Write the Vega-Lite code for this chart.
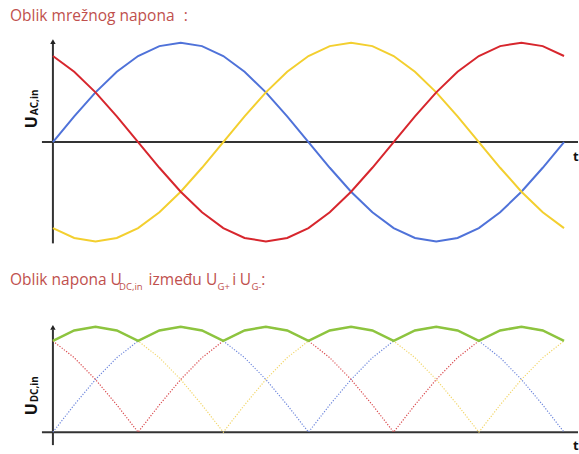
{
  "$schema": "https://vega.github.io/schema/vega-lite/v6.json",
  "width": 579,
  "height": 454,
  "autosize": {"type": "fit", "contains": "padding"},
  "padding": 0,
  "background": "white",
  "config": {"axis": {"disable": true}, "view": {"stroke": null}, "text": {"font": "Open Sans"}},
  "datasets": {
    "ac": [
      {"deg": 0, "blue": 0, "red": 0.866, "yellow": -0.866},
      {"deg": 15, "blue": 0.2588, "red": 0.7071, "yellow": -0.9659},
      {"deg": 30, "blue": 0.5, "red": 0.5, "yellow": -1},
      {"deg": 45, "blue": 0.7071, "red": 0.2588, "yellow": -0.9659},
      {"deg": 60, "blue": 0.866, "red": 0, "yellow": -0.866},
      {"deg": 75, "blue": 0.9659, "red": -0.2588, "yellow": -0.7071},
      {"deg": 90, "blue": 1, "red": -0.5, "yellow": -0.5},
      {"deg": 105, "blue": 0.9659, "red": -0.7071, "yellow": -0.2588},
      {"deg": 120, "blue": 0.866, "red": -0.866, "yellow": 0},
      {"deg": 135, "blue": 0.7071, "red": -0.9659, "yellow": 0.2588},
      {"deg": 150, "blue": 0.5, "red": -1, "yellow": 0.5},
      {"deg": 165, "blue": 0.2588, "red": -0.9659, "yellow": 0.7071},
      {"deg": 180, "blue": 0, "red": -0.866, "yellow": 0.866},
      {"deg": 195, "blue": -0.2588, "red": -0.7071, "yellow": 0.9659},
      {"deg": 210, "blue": -0.5, "red": -0.5, "yellow": 1},
      {"deg": 225, "blue": -0.7071, "red": -0.2588, "yellow": 0.9659},
      {"deg": 240, "blue": -0.866, "red": 0, "yellow": 0.866},
      {"deg": 255, "blue": -0.9659, "red": 0.2588, "yellow": 0.7071},
      {"deg": 270, "blue": -1, "red": 0.5, "yellow": 0.5},
      {"deg": 285, "blue": -0.9659, "red": 0.7071, "yellow": 0.2588},
      {"deg": 300, "blue": -0.866, "red": 0.866, "yellow": 0},
      {"deg": 315, "blue": -0.7071, "red": 0.9659, "yellow": -0.2588},
      {"deg": 330, "blue": -0.5, "red": 1, "yellow": -0.5},
      {"deg": 345, "blue": -0.2588, "red": 0.9659, "yellow": -0.7071},
      {"deg": 360, "blue": 0, "red": 0.866, "yellow": -0.866}
    ],
    "dc": [
      {"deg": 0, "blue": 0, "red": 0.866, "yellow": 0.866, "env": 0.866},
      {"deg": 15, "blue": 0.2588, "red": 0.7071, "yellow": 0.9659, "env": 0.9659},
      {"deg": 30, "blue": 0.5, "red": 0.5, "yellow": 1, "env": 1},
      {"deg": 45, "blue": 0.7071, "red": 0.2588, "yellow": 0.9659, "env": 0.9659},
      {"deg": 60, "blue": 0.866, "red": 0, "yellow": 0.866, "env": 0.866},
      {"deg": 75, "blue": 0.9659, "red": 0.2588, "yellow": 0.7071, "env": 0.9659},
      {"deg": 90, "blue": 1, "red": 0.5, "yellow": 0.5, "env": 1},
      {"deg": 105, "blue": 0.9659, "red": 0.7071, "yellow": 0.2588, "env": 0.9659},
      {"deg": 120, "blue": 0.866, "red": 0.866, "yellow": 0, "env": 0.866},
      {"deg": 135, "blue": 0.7071, "red": 0.9659, "yellow": 0.2588, "env": 0.9659},
      {"deg": 150, "blue": 0.5, "red": 1, "yellow": 0.5, "env": 1},
      {"deg": 165, "blue": 0.2588, "red": 0.9659, "yellow": 0.7071, "env": 0.9659},
      {"deg": 180, "blue": 0, "red": 0.866, "yellow": 0.866, "env": 0.866},
      {"deg": 195, "blue": 0.2588, "red": 0.7071, "yellow": 0.9659, "env": 0.9659},
      {"deg": 210, "blue": 0.5, "red": 0.5, "yellow": 1, "env": 1},
      {"deg": 225, "blue": 0.7071, "red": 0.2588, "yellow": 0.9659, "env": 0.9659},
      {"deg": 240, "blue": 0.866, "red": 0, "yellow": 0.866, "env": 0.866},
      {"deg": 255, "blue": 0.9659, "red": 0.2588, "yellow": 0.7071, "env": 0.9659},
      {"deg": 270, "blue": 1, "red": 0.5, "yellow": 0.5, "env": 1},
      {"deg": 285, "blue": 0.9659, "red": 0.7071, "yellow": 0.2588, "env": 0.9659},
      {"deg": 300, "blue": 0.866, "red": 0.866, "yellow": 0, "env": 0.866},
      {"deg": 315, "blue": 0.7071, "red": 0.9659, "yellow": 0.2588, "env": 0.9659},
      {"deg": 330, "blue": 0.5, "red": 1, "yellow": 0.5, "env": 1},
      {"deg": 345, "blue": 0.2588, "red": 0.9659, "yellow": 0.7071, "env": 0.9659},
      {"deg": 360, "blue": 0, "red": 0.866, "yellow": 0.866, "env": 0.866}
    ]
  },
  "resolve": {"scale": {"y": "independent", "color": "independent"}},
  "layer": [
    {
      "layer": [
        {
          "data": {"values": [{}]},
          "mark": {"type": "rule", "color": "#333333", "strokeWidth": 2},
          "encoding": {
            "x": {"datum": -7.73, "type": "quantitative", "scale": {"domain": [-37.27, 369.84], "nice": false, "zero": false}},
            "x2": {"datum": 369.84},
            "y": {"datum": 0, "type": "quantitative", "scale": {"domain": [-3.11, 1.43], "nice": false, "zero": false}}
          }
        },
        {
          "data": {"values": [{}]},
          "mark": {"type": "rule", "color": "#333333", "strokeWidth": 2},
          "encoding": {
            "x": {"datum": 0, "type": "quantitative", "scale": {"domain": [-37.27, 369.84], "nice": false, "zero": false}},
            "y": {"datum": -1.02, "type": "quantitative", "scale": {"domain": [-3.11, 1.43], "nice": false, "zero": false}},
            "y2": {"datum": 0.99}
          }
        },
        {
          "data": {"values": [{}]},
          "mark": {"type": "point", "shape": "triangle-up", "filled": true, "color": "#222222", "size": 30, "opacity": 1},
          "encoding": {
            "x": {"datum": 0, "type": "quantitative", "scale": {"domain": [-37.27, 369.84], "nice": false, "zero": false}},
            "y": {"datum": 1.01, "type": "quantitative", "scale": {"domain": [-3.11, 1.43], "nice": false, "zero": false}}
          }
        },
        {
          "data": {"name": "ac"},
          "transform": [{"fold": ["blue", "yellow", "red"], "as": ["phase", "v"]}],
          "mark": {"type": "line", "strokeWidth": 2},
          "encoding": {
            "x": {"field": "deg", "type": "quantitative", "scale": {"domain": [-37.27, 369.84], "nice": false, "zero": false}},
            "y": {"field": "v", "type": "quantitative", "scale": {"domain": [-3.11, 1.43], "nice": false, "zero": false}},
            "color": {"field": "phase", "type": "nominal", "scale": {"domain": ["blue", "yellow", "red"], "range": ["#4f72d9", "#f3cf2f", "#d7262d"]}, "legend": null},
            "detail": {"field": "phase"}
          }
        },
        {
          "data": {"values": [{}]},
          "mark": {"type": "text", "text": "Oblik mrežnog napona", "align": "left", "baseline": "alphabetic", "fontSize": 15.5, "color": "#c0504d"},
          "encoding": {
            "x": {"datum": -30.23, "type": "quantitative", "scale": {"domain": [-37.27, 369.84], "nice": false, "zero": false}},
            "y": {"datum": 1.22, "type": "quantitative", "scale": {"domain": [-3.11, 1.43], "nice": false, "zero": false}}
          }
        },
        {
          "data": {"values": [{}]},
          "mark": {"type": "text", "text": ":", "align": "left", "baseline": "alphabetic", "fontSize": 15.5, "color": "#c0504d"},
          "encoding": {
            "x": {"datum": 92.1, "type": "quantitative", "scale": {"domain": [-37.27, 369.84], "nice": false, "zero": false}},
            "y": {"datum": 1.22, "type": "quantitative", "scale": {"domain": [-3.11, 1.43], "nice": false, "zero": false}}
          }
        },
        {
          "data": {"values": [{}]},
          "mark": {"type": "text", "text": "U", "angle": 270, "align": "left", "baseline": "alphabetic", "fontSize": 16, "fontWeight": "bold", "color": "#111111"},
          "encoding": {
            "x": {"datum": -11.25, "type": "quantitative", "scale": {"domain": [-37.27, 369.84], "nice": false, "zero": false}},
            "y": {"datum": 0.14, "type": "quantitative", "scale": {"domain": [-3.11, 1.43], "nice": false, "zero": false}}
          }
        },
        {
          "data": {"values": [{}]},
          "mark": {"type": "text", "text": "AC,in", "angle": 270, "align": "left", "baseline": "alphabetic", "fontSize": 10, "fontWeight": "bold", "color": "#111111"},
          "encoding": {
            "x": {"datum": -10.2, "type": "quantitative", "scale": {"domain": [-37.27, 369.84], "nice": false, "zero": false}},
            "y": {"datum": 0.27, "type": "quantitative", "scale": {"domain": [-3.11, 1.43], "nice": false, "zero": false}}
          }
        },
        {
          "data": {"values": [{}]},
          "mark": {"type": "text", "text": "t", "align": "left", "baseline": "alphabetic", "fontSize": 13, "fontWeight": "bold", "color": "#111111"},
          "encoding": {
            "x": {"datum": 366.3, "type": "quantitative", "scale": {"domain": [-37.27, 369.84], "nice": false, "zero": false}},
            "y": {"datum": -0.19, "type": "quantitative", "scale": {"domain": [-3.11, 1.43], "nice": false, "zero": false}}
          }
        }
      ]
    },
    {
      "layer": [
        {
          "data": {"values": [{}]},
          "mark": {"type": "rule", "color": "#333333", "strokeWidth": 2},
          "encoding": {
            "x": {"datum": -7.73, "type": "quantitative", "scale": {"domain": [-37.27, 369.84], "nice": false, "zero": false}},
            "x2": {"datum": 369.84},
            "y": {"datum": 0, "type": "quantitative", "scale": {"domain": [-0.179, 4.104], "nice": false, "zero": false}}
          }
        },
        {
          "data": {"values": [{}]},
          "mark": {"type": "rule", "color": "#333333", "strokeWidth": 2},
          "encoding": {
            "x": {"datum": 0, "type": "quantitative", "scale": {"domain": [-37.27, 369.84], "nice": false, "zero": false}},
            "y": {"datum": -0.123, "type": "quantitative", "scale": {"domain": [-0.179, 4.104], "nice": false, "zero": false}},
            "y2": {"datum": 0.975}
          }
        },
        {
          "data": {"values": [{}]},
          "mark": {"type": "point", "shape": "triangle-up", "filled": true, "color": "#222222", "size": 30, "opacity": 1},
          "encoding": {
            "x": {"datum": 0, "type": "quantitative", "scale": {"domain": [-37.27, 369.84], "nice": false, "zero": false}},
            "y": {"datum": 0.995, "type": "quantitative", "scale": {"domain": [-0.179, 4.104], "nice": false, "zero": false}}
          }
        },
        {
          "data": {"name": "dc"},
          "transform": [{"fold": ["blue", "yellow", "red"], "as": ["phase", "v"]}],
          "mark": {"type": "line", "strokeWidth": 1.2, "strokeDash": [1.2, 1.6]},
          "encoding": {
            "x": {"field": "deg", "type": "quantitative", "scale": {"domain": [-37.27, 369.84], "nice": false, "zero": false}},
            "y": {"field": "v", "type": "quantitative", "scale": {"domain": [-0.179, 4.104], "nice": false, "zero": false}},
            "color": {"field": "phase", "type": "nominal", "scale": {"domain": ["blue", "yellow", "red"], "range": ["#6d86dc", "#f2d66a", "#d9484c"]}, "legend": null},
            "detail": {"field": "phase"}
          }
        },
        {
          "data": {"name": "dc"},
          "mark": {"type": "line", "strokeWidth": 2.5, "color": "#8dc43f"},
          "encoding": {
            "x": {"field": "deg", "type": "quantitative", "scale": {"domain": [-37.27, 369.84], "nice": false, "zero": false}},
            "y": {"field": "env", "type": "quantitative", "scale": {"domain": [-0.179, 4.104], "nice": false, "zero": false}}
          }
        },
        {
          "data": {"values": [{}]},
          "mark": {"type": "text", "text": "Oblik napona U", "align": "left", "baseline": "alphabetic", "fontSize": 15.5, "color": "#c0504d"},
          "encoding": {
            "x": {"datum": -30.23, "type": "quantitative", "scale": {"domain": [-37.27, 369.84], "nice": false, "zero": false}},
            "y": {"datum": 1.3962, "type": "quantitative", "scale": {"domain": [-0.179, 4.104], "nice": false, "zero": false}}
          }
        },
        {
          "data": {"values": [{}]},
          "mark": {"type": "text", "text": "DC,in", "align": "left", "baseline": "alphabetic", "fontSize": 9.5, "color": "#c0504d"},
          "encoding": {
            "x": {"datum": 46.6, "type": "quantitative", "scale": {"domain": [-37.27, 369.84], "nice": false, "zero": false}},
            "y": {"datum": 1.349, "type": "quantitative", "scale": {"domain": [-0.179, 4.104], "nice": false, "zero": false}}
          }
        },
        {
          "data": {"values": [{}]},
          "mark": {"type": "text", "text": "između", "align": "left", "baseline": "alphabetic", "fontSize": 15.5, "color": "#c0504d"},
          "encoding": {
            "x": {"datum": 67.4, "type": "quantitative", "scale": {"domain": [-37.27, 369.84], "nice": false, "zero": false}},
            "y": {"datum": 1.3962, "type": "quantitative", "scale": {"domain": [-0.179, 4.104], "nice": false, "zero": false}}
          }
        },
        {
          "data": {"values": [{}]},
          "mark": {"type": "text", "text": "U", "align": "left", "baseline": "alphabetic", "fontSize": 15.5, "color": "#c0504d"},
          "encoding": {
            "x": {"datum": 107.9, "type": "quantitative", "scale": {"domain": [-37.27, 369.84], "nice": false, "zero": false}},
            "y": {"datum": 1.3962, "type": "quantitative", "scale": {"domain": [-0.179, 4.104], "nice": false, "zero": false}}
          }
        },
        {
          "data": {"values": [{}]},
          "mark": {"type": "text", "text": "G+", "align": "left", "baseline": "alphabetic", "fontSize": 9.5, "color": "#c0504d"},
          "encoding": {
            "x": {"datum": 116.0, "type": "quantitative", "scale": {"domain": [-37.27, 369.84], "nice": false, "zero": false}},
            "y": {"datum": 1.349, "type": "quantitative", "scale": {"domain": [-0.179, 4.104], "nice": false, "zero": false}}
          }
        },
        {
          "data": {"values": [{}]},
          "mark": {"type": "text", "text": "i", "align": "left", "baseline": "alphabetic", "fontSize": 15.5, "color": "#c0504d"},
          "encoding": {
            "x": {"datum": 126.4, "type": "quantitative", "scale": {"domain": [-37.27, 369.84], "nice": false, "zero": false}},
            "y": {"datum": 1.3962, "type": "quantitative", "scale": {"domain": [-0.179, 4.104], "nice": false, "zero": false}}
          }
        },
        {
          "data": {"values": [{}]},
          "mark": {"type": "text", "text": "U", "align": "left", "baseline": "alphabetic", "fontSize": 15.5, "color": "#c0504d"},
          "encoding": {
            "x": {"datum": 131.6, "type": "quantitative", "scale": {"domain": [-37.27, 369.84], "nice": false, "zero": false}},
            "y": {"datum": 1.3962, "type": "quantitative", "scale": {"domain": [-0.179, 4.104], "nice": false, "zero": false}}
          }
        },
        {
          "data": {"values": [{}]},
          "mark": {"type": "text", "text": "G-", "align": "left", "baseline": "alphabetic", "fontSize": 9.5, "color": "#c0504d"},
          "encoding": {
            "x": {"datum": 139.8, "type": "quantitative", "scale": {"domain": [-37.27, 369.84], "nice": false, "zero": false}},
            "y": {"datum": 1.349, "type": "quantitative", "scale": {"domain": [-0.179, 4.104], "nice": false, "zero": false}}
          }
        },
        {
          "data": {"values": [{}]},
          "mark": {"type": "text", "text": ":", "align": "left", "baseline": "alphabetic", "fontSize": 15.5, "color": "#c0504d"},
          "encoding": {
            "x": {"datum": 146.7, "type": "quantitative", "scale": {"domain": [-37.27, 369.84], "nice": false, "zero": false}},
            "y": {"datum": 1.3962, "type": "quantitative", "scale": {"domain": [-0.179, 4.104], "nice": false, "zero": false}}
          }
        },
        {
          "data": {"values": [{}]},
          "mark": {"type": "text", "text": "U", "angle": 270, "align": "left", "baseline": "alphabetic", "fontSize": 16, "fontWeight": "bold", "color": "#111111"},
          "encoding": {
            "x": {"datum": -11.25, "type": "quantitative", "scale": {"domain": [-37.27, 369.84], "nice": false, "zero": false}},
            "y": {"datum": 0.16, "type": "quantitative", "scale": {"domain": [-0.179, 4.104], "nice": false, "zero": false}}
          }
        },
        {
          "data": {"values": [{}]},
          "mark": {"type": "text", "text": "DC,in", "angle": 270, "align": "left", "baseline": "alphabetic", "fontSize": 10, "fontWeight": "bold", "color": "#111111"},
          "encoding": {
            "x": {"datum": -10.2, "type": "quantitative", "scale": {"domain": [-37.27, 369.84], "nice": false, "zero": false}},
            "y": {"datum": 0.283, "type": "quantitative", "scale": {"domain": [-0.179, 4.104], "nice": false, "zero": false}}
          }
        },
        {
          "data": {"values": [{}]},
          "mark": {"type": "text", "text": "t", "align": "left", "baseline": "alphabetic", "fontSize": 13, "fontWeight": "bold", "color": "#111111"},
          "encoding": {
            "x": {"datum": 366.3, "type": "quantitative", "scale": {"domain": [-37.27, 369.84], "nice": false, "zero": false}},
            "y": {"datum": -0.17, "type": "quantitative", "scale": {"domain": [-0.179, 4.104], "nice": false, "zero": false}}
          }
        }
      ]
    }
  ]
}
